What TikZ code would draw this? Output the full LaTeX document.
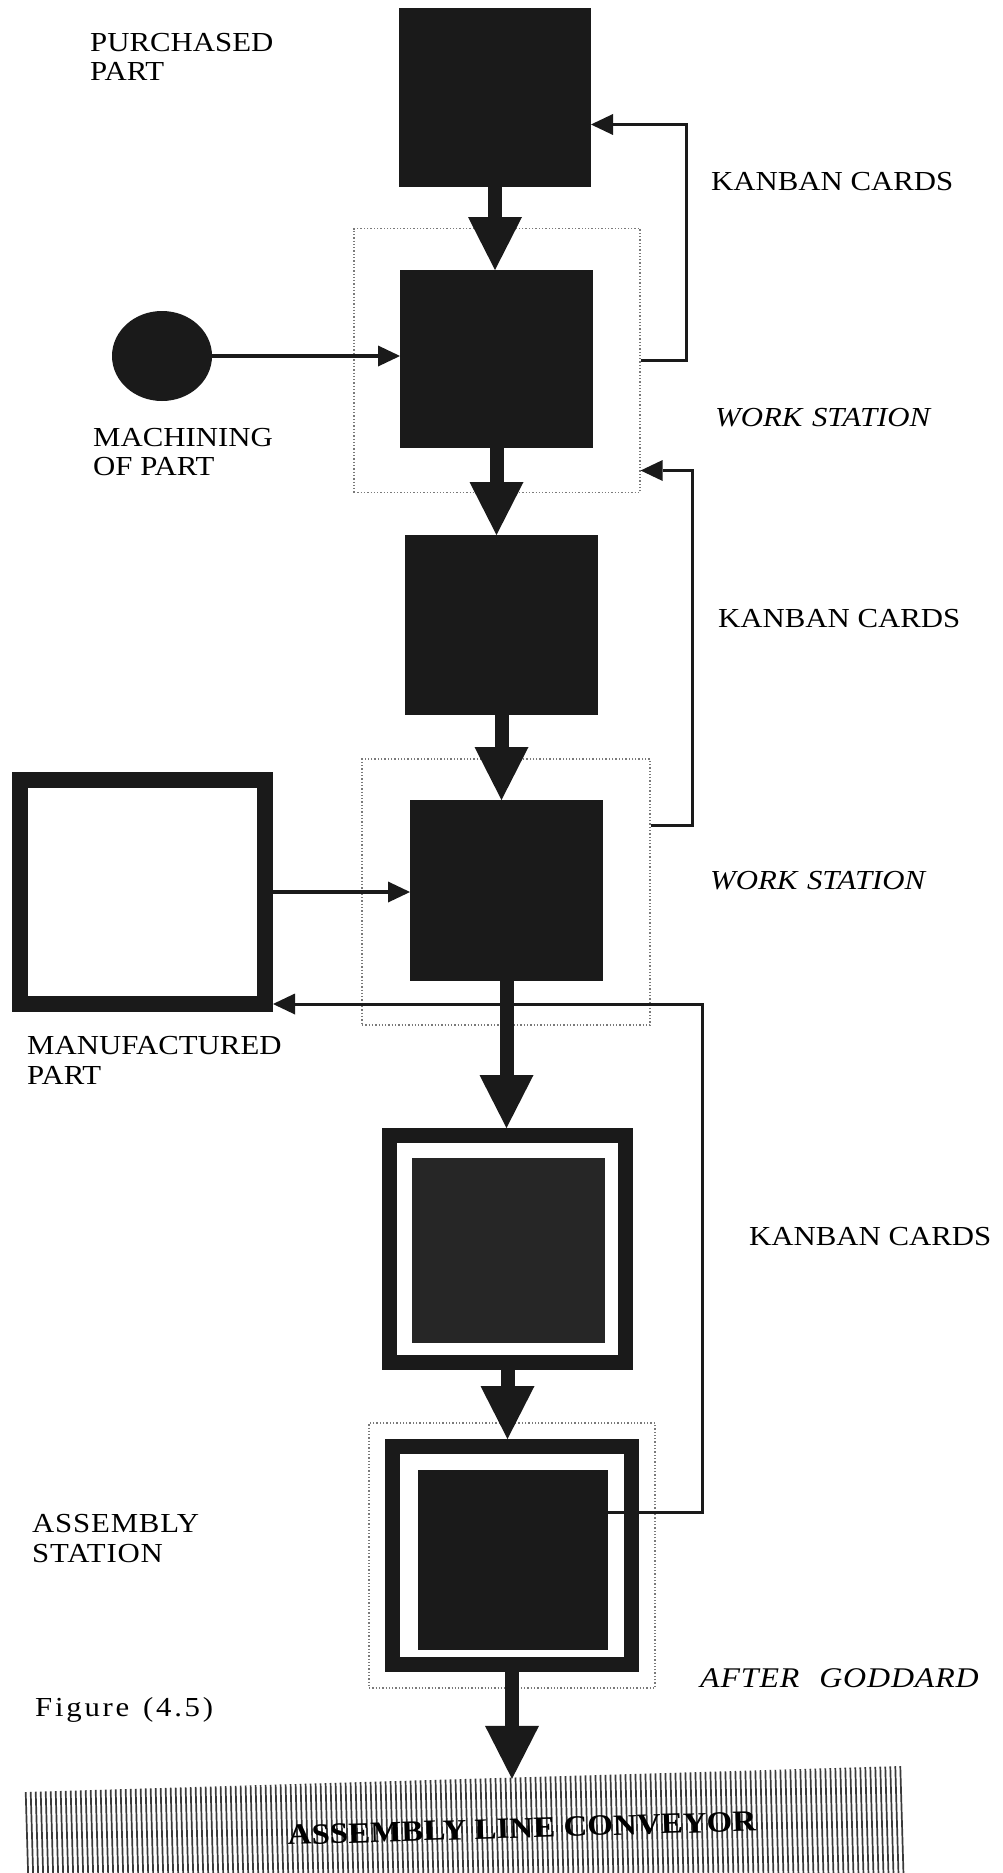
\documentclass[tikz,border=0pt]{standalone}
\usepackage{fontspec}
\setmainfont{Liberation Serif}[FakeStretch=1.12]
\usetikzlibrary{arrows.meta,shapes.geometric,calc}
\definecolor{cInk}{HTML}{1A1A1A}
\definecolor{cShade}{HTML}{262626}
\definecolor{cDot}{HTML}{7A7A7A}
\definecolor{cHatch}{HTML}{3A3A3A}
\newcommand\lblfont{\fontsize{27.5}{29}\selectfont}
\tikzset{
  blk/.style   = {rectangle, fill=cInk, inner sep=0pt, outer sep=0pt,
                  minimum width=193pt, minimum height=179pt},
  frm/.style   = {rectangle, draw=cInk, fill=white, line width=15pt, inner sep=0pt},
  ws/.style    = {rectangle, draw=cDot, dotted, line width=1.3pt, inner sep=0pt,
                  minimum width=286pt, minimum height=264pt},
  flow/.style  = {-{Triangle[length=53pt,width=54pt,line width=0pt]}, draw=cInk, line width=14pt},
  feed/.style  = {-{Triangle[length=22pt,width=21pt,line width=0pt]}, draw=cInk, line width=3pt},
  lbl/.style   = {font=\lblfont, inner sep=0pt, anchor=north west, align=left},
  lbli/.style  = {lbl, font=\lblfont\itshape},
  hatch/.style = {draw=cHatch, line width=1.7pt},
}

\begin{document}
\begin{tikzpicture}[x=1pt, y=-1pt]
  \useasboundingbox[fill=white] (0,0) rectangle (1002,1873);

  % work station frames
  \node[ws] (ws1) at (497,360.5) {};
  \node[ws, minimum width=288pt, minimum height=266pt] (ws2) at (506,892) {};
  \node[ws, minimum height=265pt] (ws3) at (512,1555.5) {};

  % stock points
  \node[blk, minimum width=192pt] (box1) at (495,97.5) {};
  \node[blk, minimum height=178pt] (box2) at (496.5,359) {};
  \node[blk, minimum height=180pt] (box3) at (501.5,625) {};
  \node[blk, minimum height=181pt] (box4) at (506.5,890.5) {};
  \node[ellipse, fill=cInk, inner sep=0pt, minimum width=100pt, minimum height=90pt] (mach) at (162,356) {};
  \node[frm, line width=16pt, minimum width=245pt, minimum height=224pt] (manuf) at (142.5,892) {};
  \node[frm, minimum width=236pt, minimum height=227pt] (box5) at (507.5,1249) {};
  \node[blk, fill=cShade, minimum height=185pt] (box5in) at (508.5,1250.5) {};
  \node[frm, minimum width=239pt, minimum height=218pt] (box6) at (512,1555.5) {};
  \node[blk, minimum width=190pt, minimum height=180pt] (box6in) at (513,1560) {};

  % labels
  \node[lbl] (purchlab) at (90,33) {PURCHASED\\PART};
  \node[lbl] (machlab) at (93,428) {MACHINING\\OF PART};
  \node[lbl] (kan1) at (711,172) {KANBAN CARDS};
  \node[lbli] (wslab1) at (715,408) {WORK\hspace{0.35em}STATION};
  \node[lbl] (kan2) at (718,609) {KANBAN CARDS};
  \node[lbli] (wslab2) at (710,871) {WORK\hspace{0.35em}STATION};
  \node[lbl, font=\fontsize{27.5}{30.5}\selectfont] (manuflab) at (27,1036) {MANUFACTURED\\PART};
  \node[lbl] (kan3) at (749,1227) {KANBAN CARDS};
  \node[lbl, font=\fontsize{27.5}{30}\selectfont\addfontfeature{LetterSpace=3}] (asmlab) at (32,1514) {ASSEMBLY\\STATION};
  \node[lbl, font=\fontsize{28.5}{31}\selectfont\itshape\addfontfeature{LetterSpace=3}] (srclab) at (700,1668) {AFTER\hspace{0.7em}GODDARD};
  \node[lbl, font=\lblfont\addfontfeature{LetterSpace=10}] (figlab) at (35,1697) {Figure\hspace{0.5em}(4.5)};

  % conveyor
  \begin{scope}[rotate around={1.7:(465,1830)}]
    \foreach \i in {0,...,175}
      \draw[hatch] (27+\i*5,1779) -- (27+\i*5,1900);
    \node[transform shape, inner sep=0pt, minimum width=877pt, minimum height=102pt] (conv) at (465,1830) {};
    \node[transform shape, inner sep=0pt, font=\fontsize{29.5}{31}\selectfont\bfseries] (convlab) at (522,1830) {ASSEMBLY LINE CONVEYOR};
  \end{scope}

  % flow of parts
  \draw[flow] (box1.south) -- (box1.south |- box2.north);
  \draw[flow] (box2.south) -- (box2.south |- box3.north);
  \draw[flow] (box3.south) -- (box3.south |- box4.north);
  \draw[flow] (box4.south) -- (box4.south |- box5.north);
  \draw[flow] (box5.south) -- (box5.south |- box6.north);
  \draw[flow] (box6.south) -- (box6.south |- conv.north);

  \draw[feed, line width=4pt] (mach.east) -- (mach.east -| box2.west);
  \draw[feed, line width=4pt] (manuf.east) -- (manuf.east -| box4.west);

  % kanban loops
  \draw[feed] (ws1.east) -- ++(46,0) |- ([yshift=-27pt]box1.east);
  \draw[feed] ([yshift=67pt]ws2.east) -- ++(42,0) |- ([yshift=-110pt]ws1.east);
  \draw[feed] ([yshift=48pt]box6in.east) -- ++(94,0) |- ([yshift=-112pt]manuf.east);
\end{tikzpicture}
\end{document}
